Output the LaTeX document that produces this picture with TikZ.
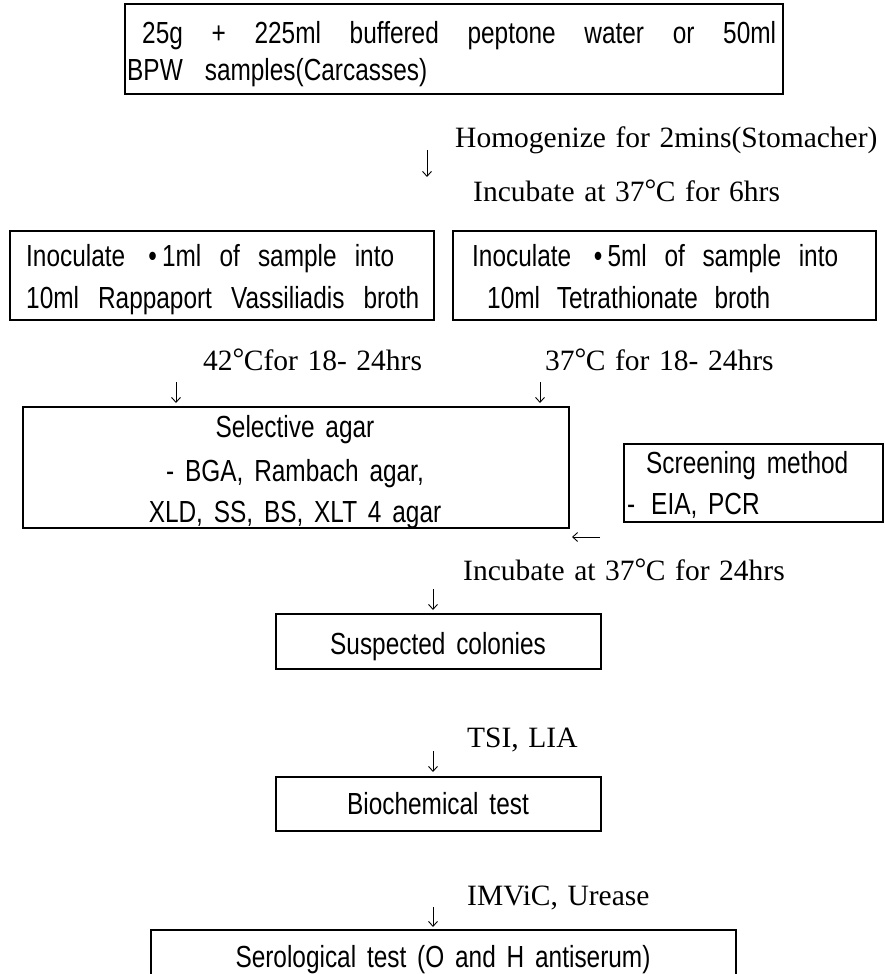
\documentclass[tikz,border=0pt]{standalone}
\usepackage{fontspec}
\setmainfont[WordSpace=1.3]{Liberation Serif}
\newfontfamily\boxfont[FakeStretch=0.8,WordSpace=1.6]{Liberation Sans}
\usetikzlibrary{arrows.meta}
\newcommand{\degC}{\raisebox{0.05em}{°}\kern-0.02em C}
\begin{document}
\begin{tikzpicture}[x=1pt,y=-1pt,
  boxline/.style={draw,line width=1.8pt},
  box/.style={boxline,anchor=north west,inner sep=0pt},
  boxtxt/.style={anchor=base west,inner sep=0pt,font=\boxfont\fontsize{30.5}{32}\selectfont},
  boxtxtc/.style={boxtxt,anchor=base},
  lbl/.style={anchor=base west,inner sep=0pt,font=\fontsize{29.5}{32}\selectfont},
  arr/.style={-{Straight Barb[length=5pt,width=9pt]},line width=0.9pt}]
\useasboundingbox (0,0) rectangle (884,974);
% boxes
\node[box,minimum width=658pt,minimum height=90pt] (top) at (124,3) {};
\node[box,minimum width=424pt,minimum height=89pt] (lbox) at (9,230) {};
\node[box,minimum width=423pt,minimum height=89pt] (rbox) at (452,230) {};
\node[box,minimum width=546pt,minimum height=121pt] (sel) at (22,406) {};
\node[box,minimum width=259pt,minimum height=78pt] (scr) at (623,443) {};
\node[box,minimum width=325pt,minimum height=55pt] (sus) at (275,613) {};
\node[box,minimum width=325pt,minimum height=54pt] (bio) at (275,776) {};
\draw[boxline] (151,976) -- (151,930) -- (736,930) -- (736,976);
% box texts
\node[boxtxt] (t1) at (142,44) {\makebox[634pt][s]{25g + 225ml buffered peptone water or 50ml}};
\node[boxtxt] (t2) at (127,81) {\makebox[300pt][s]{BPW samples(Carcasses)}};
\node[boxtxt] (l1) at (26,266) {\makebox[368pt][s]{Inoculate \,•\,1ml of sample into}};
\node[boxtxt] (l2) at (26,308) {\makebox[393pt][s]{10ml Rappaport Vassiliadis broth}};
\node[boxtxt] (r1) at (472,266) {\makebox[366pt][s]{Inoculate \,•\,5ml of sample into}};
\node[boxtxt] (r2) at (487,308) {\makebox[283pt][s]{10ml Tetrathionate broth}};
\node[boxtxtc] (s1) at (295,437) {Selective agar};
\node[boxtxtc] (s2) at (295,481) {- BGA, Rambach agar,};
\node[boxtxtc] (s3) at (295,522) {XLD, SS, BS, XLT 4 agar};
\node[boxtxt] (c1) at (646,473) {Screening method};
\node[boxtxt] (c2) at (627,514) {- \,EIA, PCR};
\node[boxtxtc] (u1) at (438,654) {Suspected colonies};
\node[boxtxtc] (b1) at (438,814) {Biochemical test};
\node[boxtxtc] (e1) at (443,967) {Serological test (O and H antiserum)};
% labels
\node[lbl] (hom) at (455,147) {Homogenize for 2mins(Stomacher)};
\node[lbl] (inc1) at (473,201) {Incubate at 37\degC\ for 6hrs};
\node[lbl] (h42) at (203,370) {42\degC for 18- 24hrs};
\node[lbl] (h37) at (545,370) {37\degC\ for 18- 24hrs};
\node[lbl] (inc2) at (463,580) {Incubate at 37\degC\ for 24hrs};
\node[lbl] (tsi) at (467,747) {TSI, LIA};
\node[lbl] (imv) at (467,905) {IMViC, Urease};
% arrows
\coordinate (a1s) at (427,150); \coordinate (a1e) at (427,177);
\coordinate (a2s) at (176,382); \coordinate (a2e) at (176,403);
\coordinate (a3s) at (540,382); \coordinate (a3e) at (540,403);
\coordinate (a4s) at (600,537); \coordinate (a4e) at (572,537);
\coordinate (a5s) at (433,589); \coordinate (a5e) at (433,610);
\coordinate (a6s) at (433,751); \coordinate (a6e) at (433,772);
\coordinate (a7s) at (433,907); \coordinate (a7e) at (433,927);
\draw[arr] (a1s) -- (a1e);
\draw[arr] (a2s) -- (a2e);
\draw[arr] (a3s) -- (a3e);
\draw[arr] (a4s) -- (a4e);
\draw[arr] (a5s) -- (a5e);
\draw[arr] (a6s) -- (a6e);
\draw[arr] (a7s) -- (a7e);
\end{tikzpicture}
\end{document}
